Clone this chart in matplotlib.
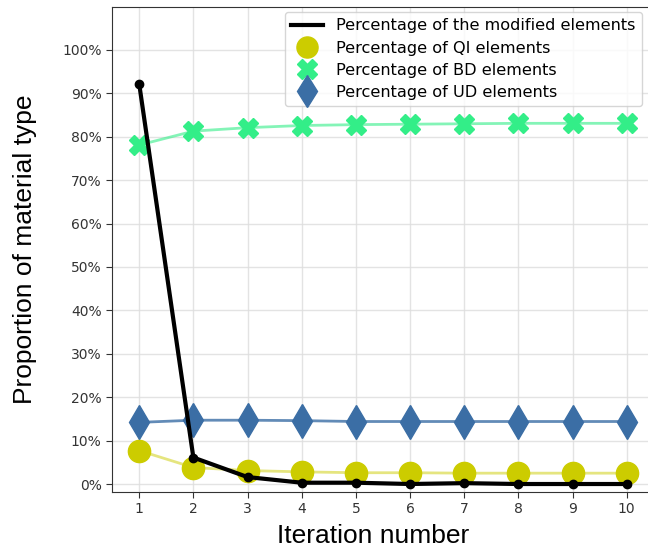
import numpy as np
import matplotlib
matplotlib.use('Agg')
import matplotlib.pyplot as plt
from matplotlib.ticker import PercentFormatter

iterations = [1, 2, 3, 4, 5, 6, 7, 8, 9, 10]
modified = [0.922, 0.061, 0.016, 0.003, 0.003, 0.000, 0.002, 0.000, 0.000, 0.000]
qi = [0.077, 0.038, 0.031, 0.028, 0.026, 0.026, 0.025, 0.025, 0.025, 0.025]
bd = [0.781, 0.813, 0.821, 0.826, 0.828, 0.829, 0.830, 0.831, 0.831, 0.831]
ud = [0.142, 0.147, 0.147, 0.146, 0.144, 0.144, 0.144, 0.144, 0.144, 0.144]

c_qi = '#cccc00'
c_bd = '#33ee88'
c_ud = '#3b6ea5'

fig = plt.figure(figsize=(6.48, 5.52), dpi=100)
ax = fig.add_axes([0.173, 0.1087, 0.836, 0.8786])

# lines first, markers on top
ax.plot(iterations, qi, color=c_qi, alpha=0.5, lw=2, zorder=2)
ax.plot(iterations, bd, color=c_bd, alpha=0.6, lw=2, zorder=2)
ax.plot(iterations, ud, color=c_ud, alpha=0.8, lw=2, zorder=2)

ax.plot(iterations, modified, color='black', lw=3, zorder=4,
        label='Percentage of the modified elements')
ax.plot(iterations, modified, 'o', color='black', ms=6, zorder=5)

ax.plot(iterations, qi, 'o', color=c_qi, ms=16, ls='none', zorder=3,
        label='Percentage of QI elements')
ax.plot(iterations, bd, 'X', color=c_bd, ms=15, ls='none', zorder=3,
        label='Percentage of BD elements')
ax.plot(iterations, ud, 'd', color=c_ud, ms=17, ls='none', zorder=3,
        label='Percentage of UD elements')

ax.set_xlim(0.5, 10.5)
ax.set_ylim(-0.0184, 1.099)
ax.set_xticks(iterations)
ax.set_yticks(np.arange(0, 1.01, 0.1))
ax.yaxis.set_major_formatter(PercentFormatter(1.0, decimals=0))
ax.tick_params(labelsize=10, colors='#333333', length=4)
ax.grid(True, color='#dddddd', lw=1, alpha=0.8)
ax.set_axisbelow(True)
for s in ax.spines.values():
    s.set_color('#333333')

ax.set_xlabel('Iteration number', fontsize=19, family='Liberation Sans')
ax.xaxis.set_label_coords(0.482, -0.065)
ax.set_ylabel('Proportion of material type', fontsize=19, family='Liberation Sans')
ax.yaxis.set_label_coords(-0.139, 0.5)

leg = ax.legend(loc='upper right', bbox_to_anchor=(0.987, 1.0), fontsize=11.6,
                markerscale=0.95, handlelength=2.0, borderaxespad=0.3,
                labelspacing=0.45)

fig.savefig('out.png', dpi=100)
